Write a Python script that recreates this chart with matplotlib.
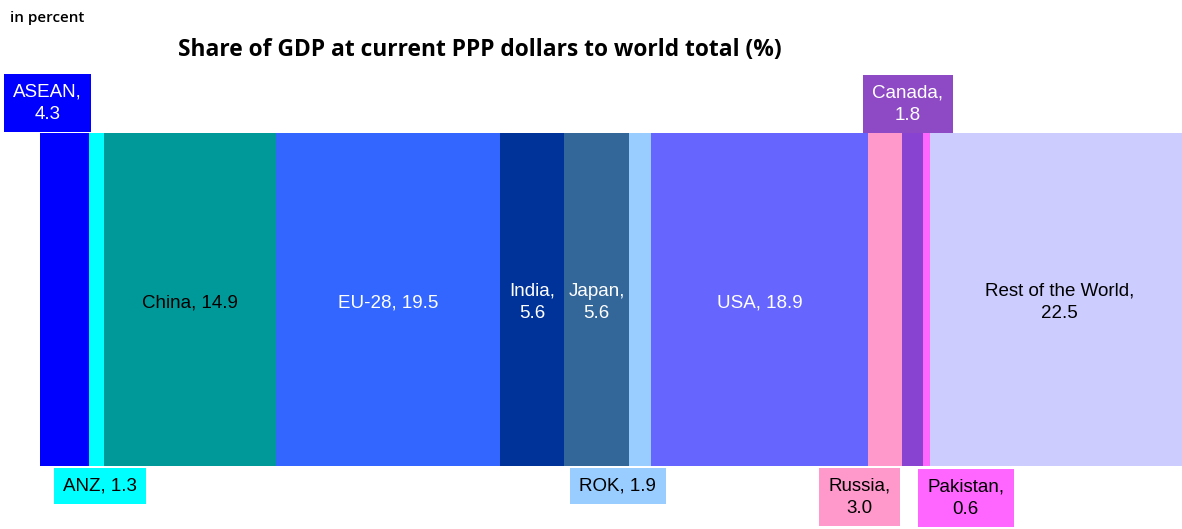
import matplotlib
matplotlib.use("Agg")
import matplotlib.pyplot as plt

# data
regions = ["ASEAN", "ANZ", "China", "EU-28", "India", "Japan", "ROK",
           "USA", "Russia", "Canada", "Pakistan", "Rest of the World"]
shares = [4.3, 1.3, 14.9, 19.5, 5.6, 5.6, 1.9, 18.9, 3.0, 1.8, 0.6, 22.5]
colors = ["#0000FF", "#00FFFF", "#009999", "#3366FF", "#003399", "#336699",
          "#99CCFF", "#6666FF", "#FF99CC", "#8844D0", "#FF66FF", "#CCCCFF"]
box_colors = {"Canada": "#8E4AC4"}

# label placement: (where, dx px, dy px, text colour)
label_pos = {
    "ASEAN":  ("top", -17, 30, "white"),
    "ANZ":    ("bottom", 3, -20, "black"),
    "China":  ("in", 0, -3, "black"),
    "EU-28":  ("in", 0, -3, "white"),
    "India":  ("in", 0, -3, "white"),
    "Japan":  ("in", 0, -3, "white"),
    "ROK":    ("bottom", -22, -20, "black"),
    "USA":    ("in", 0, -3, "white"),
    "Russia": ("bottom", -26, -31, "black"),
    "Canada": ("top", -5, 29, "white"),
    "Pakistan": ("bottom", 39, -32, "black"),
    "Rest of the World": ("in", 0, -3, "black"),
}
two_line = {"ASEAN", "India", "Japan", "Russia", "Canada", "Pakistan",
            "Rest of the World"}

LBL_FONT = ["Liberation Sans", "DejaVu Sans"]

fig = plt.figure(figsize=(11.82, 5.29), dpi=100)
fig.patch.set_facecolor("white")
# axis spans 0-100 %, right end falls just outside the picture
ax = fig.add_axes([40 / 1182, 63 / 529, 1150 / 1182, 333 / 529])
ax.set_xlim(0, 100)
ax.set_ylim(0, 1)
ax.axis("off")

left = 0.0
for name, val, col in zip(regions, shares, colors):
    ax.bar(left, 1, width=val, align="edge", color=col, lw=0, clip_on=False)
    cx = left + val / 2
    where, dx, dy, tc = label_pos[name]
    sep = "\n" if name in two_line else " "
    txt = f"{name},{sep}{val:.1f}"
    if where == "in":
        ax.annotate(txt, xy=(cx, 0.5), xytext=(dx, dy), textcoords="offset pixels",
                    ha="center", va="center", fontsize=13.5, color=tc,
                    family=LBL_FONT, linespacing=1.45)
    else:
        yy = 1 if where == "top" else 0
        ax.annotate(txt, xy=(cx, yy), xytext=(dx, dy), textcoords="offset pixels",
                    ha="center", va="center", fontsize=13.5, color=tc,
                    family=LBL_FONT, linespacing=1.45, annotation_clip=False,
                    bbox=dict(boxstyle="square,pad=0.5", lw=0,
                              facecolor=box_colors.get(name, col)))
    left += val

fig.text(480 / 1182, 1 - 50 / 529,
         "Share of GDP at current PPP dollars to world total (%)",
         ha="center", va="center", fontsize=16.4, fontweight="bold",
         family=["Open Sans", "DejaVu Sans"])
fig.text(10 / 1182, 1 - 18 / 529, "in percent", ha="left", va="center",
         fontsize=11, fontweight="semibold", family=["Open Sans", "DejaVu Sans"])

fig.savefig("out.png", dpi=100, facecolor="white")
